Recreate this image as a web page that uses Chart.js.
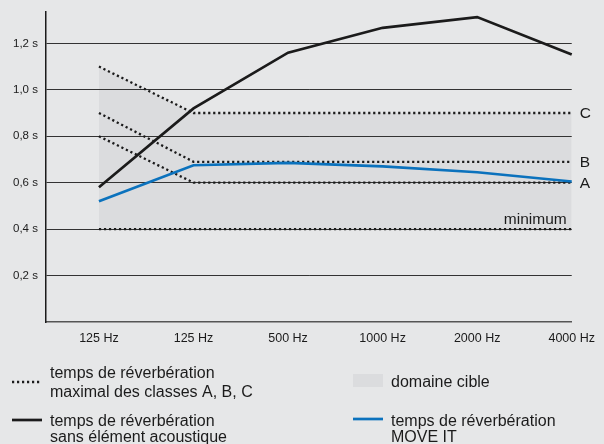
<!DOCTYPE html>
<html>
<head>
<meta charset="utf-8">
<script src="https://cdn.jsdelivr.net/npm/chart.js@4/dist/chart.umd.min.js"></script>
<style>
  html, body { margin: 0; padding: 0; background: #e6e7e8; }
  #wrap { width: 604px; height: 444px; }
</style>
</head>
<body>
<div id="wrap"><canvas id="reverbChart" width="604" height="444"></canvas></div>
<script>
// Nachhallzeit je Oktavband (s)
const frequencies = ['125 Hz', '125 Hz', '500 Hz', '1000 Hz', '2000 Hz', '4000 Hz'];
const classC = [1.1, 0.9, 0.9, 0.9, 0.9, 0.9];
const classB = [0.9, 0.69, 0.69, 0.69, 0.69, 0.69];
const classA = [0.8, 0.6, 0.6, 0.6, 0.6, 0.6];
const minimum = [0.4, 0.4, 0.4, 0.4, 0.4, 0.4];
const withoutElement = [0.58, 0.92, 1.16, 1.267, 1.313, 1.152];
const moveIt = [0.52, 0.675, 0.685, 0.67, 0.645, 0.605];
const yTicks = [0.2, 0.4, 0.6, 0.8, 1.0, 1.2];

const FONT = '"Liberation Sans", Arial, sans-serif';
const INK = '#1b1b1b';
const BLUE = '#0b72bd';
const SHADE = '#dbdcde';
const DOTS = [2.2, 2.8];

const pts = arr => arr.map((y, i) => ({ x: i, y }));

const dotted = (data, extra) => Object.assign({
  data: pts(data),
  borderColor: INK,
  borderWidth: 2.3,
  borderDash: DOTS,
  borderCapStyle: 'butt',
  pointRadius: 0,
  fill: false,
  clip: false
}, extra);

const solid = (data, color) => ({
  data: pts(data),
  borderColor: color,
  borderWidth: 2.7,
  pointRadius: 0,
  fill: false,
  clip: false
});

// Klassenbuchstaben, "minimum" und Legende unten
const annotations = {
  id: 'annotations',
  afterDraw(chart) {
    const { ctx, scales: { x, y } } = chart;
    const last = frequencies.length - 1;
    ctx.save();
    ctx.fillStyle = INK;
    ctx.font = '15.5px ' + FONT;
    ctx.textAlign = 'left';
    ctx.textBaseline = 'middle';
    [['C', classC], ['B', classB], ['A', classA]].forEach(([t, arr]) => {
      ctx.fillText(t, x.getPixelForValue(last) + 8, y.getPixelForValue(arr[last]) + 1);
    });
    ctx.textAlign = 'right';
    ctx.textBaseline = 'alphabetic';
    ctx.fillText('minimum', x.getPixelForValue(last) - 5, y.getPixelForValue(minimum[last]) - 5);

    ctx.font = '16px ' + FONT;
    ctx.textAlign = 'left';
    const text = (lines, tx, base, gap) => lines.forEach((l, i) => ctx.fillText(l, tx, base + i * gap));

    // gepunktet
    ctx.strokeStyle = INK;
    ctx.lineWidth = 2.3;
    ctx.setLineDash(DOTS);
    ctx.beginPath(); ctx.moveTo(12, 382); ctx.lineTo(41, 382); ctx.stroke();
    ctx.setLineDash([]);
    text(['temps de réverbération', 'maximal des classes A, B, C'], 50, 378, 19);

    // ohne Element
    ctx.lineWidth = 2.7;
    ctx.beginPath(); ctx.moveTo(12, 420); ctx.lineTo(42, 420); ctx.stroke();
    text(['temps de réverbération', 'sans élément acoustique'], 50, 426, 16);

    // Zielbereich
    ctx.fillStyle = SHADE;
    ctx.fillRect(353, 374, 30, 13);
    ctx.fillStyle = INK;
    text(['domaine cible'], 391, 387, 0);

    // MOVE IT
    ctx.strokeStyle = BLUE;
    ctx.beginPath(); ctx.moveTo(353, 419); ctx.lineTo(383, 419); ctx.stroke();
    text(['temps de réverbération', 'MOVE IT'], 391, 426, 16);
    ctx.restore();
  }
};

new Chart(document.getElementById('reverbChart'), {
  type: 'line',
  data: {
    datasets: [
      solid(moveIt, BLUE),
      solid(withoutElement, INK),
      dotted(minimum),
      dotted(classA),
      dotted(classB),
      // Zielbereich zwischen Klasse C und Minimum
      dotted(classC, { fill: 2, backgroundColor: SHADE })
    ]
  },
  options: {
    responsive: false,
    devicePixelRatio: 1,
    animation: false,
    layout: { padding: { left: 13, right: 32, top: 12, bottom: 0 } },
    plugins: {
      legend: { display: false },
      tooltip: { enabled: false },
      filler: { drawTime: 'beforeDraw' }
    },
    scales: {
      x: {
        type: 'linear',
        min: -0.56,
        max: 5,
        afterBuildTicks: s => { s.ticks = frequencies.map((_, i) => ({ value: i })); },
        afterFit: s => { s.height = 122; },
        grid: { display: false, drawTicks: false },
        border: { display: true, color: '#555', width: 1.5 },
        ticks: {
          autoSkip: false,
          maxRotation: 0,
          padding: 9,
          color: INK,
          font: { family: FONT, size: 12.5 },
          callback: v => frequencies[v]
        }
      },
      y: {
        min: 0,
        max: 1.335,
        afterBuildTicks: s => { s.ticks = yTicks.map(v => ({ value: v })); },
        afterFit: s => { s.width = 33; },
        grid: { color: '#333', lineWidth: 1, drawTicks: false },
        border: { display: true, color: INK, width: 1.5 },
        ticks: {
          crossAlign: 'far',
          color: INK,
          font: { family: FONT, size: 11.5 },
          callback: v => v.toFixed(1).replace('.', ',') + ' s'
        }
      }
    }
  },
  plugins: [annotations]
});
</script>
</body>
</html>
